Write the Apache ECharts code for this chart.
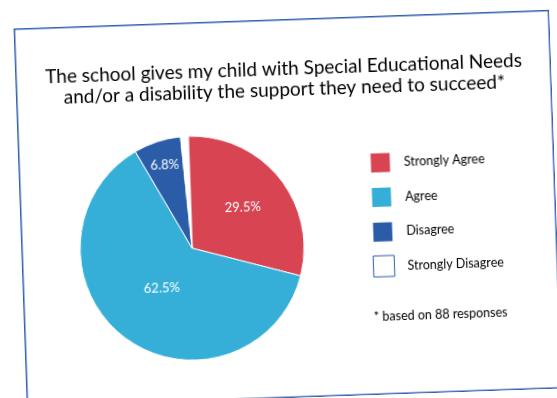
<!DOCTYPE html>
<html>
<head>
<meta charset="utf-8">
<script src="https://cdn.jsdelivr.net/npm/echarts@6/dist/echarts.min.js"></script>
<style>
html,body{margin:0;padding:0;background:#fff;overflow:hidden;width:557px;height:398px;}
#chart{position:absolute;left:20.2px;top:18.5px;width:536px;height:379px;transform:rotate(-2deg);transform-origin:50% 50%;background:#fff;}
</style>
</head>
<body>
<div id="chart"></div>
<script>
const titleLines = ['The school gives my child with Special Educational Needs', 'and/or a disability the support they need to succeed*'];
const categories = ['Strongly Agree', 'Agree', 'Disagree', 'Strongly Disagree'];
const percentValues = [29.5, 62.5, 6.8, 1.1];
const footnote = '* based on 88 responses';

const colors = ['#d84452', '#36afd8', '#2a5ca8', '#ffffff'];
const labelRadiusFrac = [0.58, 0.45, 0.78, null];
const pieCenter = [170.8, 225.8];
const pieRadius = 112;
const font = 'Lato';

const chart = echarts.init(document.getElementById('chart'), null, {renderer: 'canvas'});
const total = percentValues.reduce((a, b) => a + b, 0);
const cumBefore = percentValues.map((v, i) => percentValues.slice(0, i).reduce((a, b) => a + b, 0));

chart.setOption({
  animation: false,
  backgroundColor: '#fff',
  title: {
    text: titleLines.join('\n'),
    left: 268.5,
    textAlign: 'center',
    top: 40,
    padding: 0,
    textStyle: {fontFamily: font, fontSize: 19, lineHeight: 20.6, fontWeight: 'normal', color: '#000'}
  },
  legend: {
    orient: 'vertical',
    left: 350.4,
    top: 135.4,
    padding: 0,
    itemWidth: 21,
    itemHeight: 21,
    itemGap: 11.7,
    icon: 'rect',
    selectedMode: false,
    textStyle: {fontFamily: font, fontSize: 12.5, color: '#000', padding: [0, 0, 0, 8]},
    data: categories.map((c, i) => i === 3
      ? {name: c, itemStyle: {color: '#fff', borderColor: '#2f5fae', borderWidth: 1}}
      : {name: c})
  },
  graphic: [
    {type: 'rect', shape: {x: 0.75, y: 0.75, width: 534.5, height: 377.5},
     style: {fill: 'none', stroke: '#2f5fae', lineWidth: 1.5}, silent: true, z: 100},
    {type: 'text', left: 350, top: 294,
     style: {text: footnote, font: '12.5px ' + font, fill: '#000'}}
  ],
  series: [{
    type: 'pie',
    center: pieCenter,
    radius: pieRadius,
    startAngle: 90,
    clockwise: true,
    avoidLabelOverlap: false,
    itemStyle: {borderColor: '#fff', borderWidth: 1},
    emphasis: {disabled: true},
    label: {
      show: true,
      position: 'inside',
      formatter: p => p.dataIndex === 3 ? '' : p.value.toFixed(1) + '%',
      color: '#fff',
      fontFamily: font,
      fontSize: 13
    },
    labelLine: {show: false},
    labelLayout: function (p) {
      const i = p.dataIndex;
      const f = labelRadiusFrac[i];
      if (f == null) return {};
      const mid = (90 - (cumBefore[i] + percentValues[i] / 2) / total * 360) * Math.PI / 180;
      return {x: pieCenter[0] + f * pieRadius * Math.cos(mid), y: pieCenter[1] - f * pieRadius * Math.sin(mid)};
    },
    data: categories.map((c, i) => ({name: c, value: percentValues[i], itemStyle: {color: colors[i]}}))
  }]
});
</script>
</body>
</html>
